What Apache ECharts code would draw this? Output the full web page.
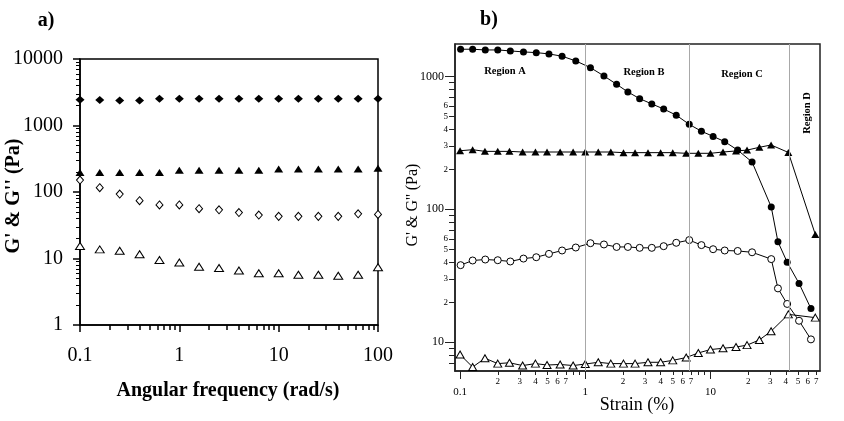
<!DOCTYPE html>
<html><head><meta charset="utf-8">
<script src="https://cdn.jsdelivr.net/npm/echarts@6/dist/echarts.min.js"></script>
<style>html,body{margin:0;padding:0;background:#fff}#c{width:844px;height:421px}</style>
</head><body><div id="c"></div>
<script>
// ---------- Panel a data ----------
const freqA = [0.1, 0.158, 0.251, 0.398, 0.631, 1, 1.58, 2.51, 3.98, 6.31, 10, 15.8, 25.1, 39.8, 63.1, 100];
const aFilledDiamond = [2430, 2420, 2380, 2380, 2520, 2520, 2530, 2530, 2530, 2530, 2530, 2530, 2530, 2530, 2530, 2530];
const aFilledTriangle = [196, 196, 196, 196, 196, 213, 213, 213, 213, 213, 222, 222, 222, 222, 222, 228];
const aOpenDiamond = [151, 116, 93, 74, 64, 64, 56, 54, 49, 45, 43, 43, 43, 43, 47, 46];
const aOpenTriangle = [15.4, 13.7, 13.1, 11.6, 9.5, 8.7, 7.5, 7.2, 6.6, 6.0, 6.0, 5.7, 5.7, 5.5, 5.7, 7.4];

// ---------- Panel b data ----------
const strainCircle = [0.101, 0.126, 0.159, 0.2, 0.252, 0.321, 0.406, 0.513, 0.653, 0.84, 1.10, 1.41, 1.78, 2.19, 2.72, 3.40, 4.23, 5.33, 6.77, 8.47, 10.5, 13.0, 16.5, 21.5, 30.6, 34.6, 41, 51, 63.5];
const bGprime = [1603, 1603, 1583, 1583, 1557, 1530, 1511, 1478, 1420, 1309, 1165, 1009, 873, 764, 681, 621, 569, 511, 436, 387, 354, 323, 279, 227, 104, 57, 40, 27.7, 17.9];
const bOpenCircle = [38.0, 41.2, 41.9, 41.4, 40.5, 42.6, 43.6, 46.2, 49.0, 51.6, 55.6, 54.4, 52.1, 52.1, 51.3, 51.3, 52.8, 56.0, 58.7, 53.8, 50.1, 49.0, 48.6, 47.5, 42.2, 25.4, 19.4, 14.5, 10.5];
const strainTriangle = [0.1, 0.126, 0.158, 0.2, 0.248, 0.316, 0.4, 0.495, 0.63, 0.8, 1.0, 1.27, 1.6, 2.02, 2.5, 3.17, 4.0, 5.0, 6.4, 8.0, 10, 12.6, 16, 19.6, 24.6, 30.5, 41.9, 68.8];
const bGdouble = [276, 281, 273, 273, 273, 270, 270, 270, 270, 270, 270, 270, 270, 267, 267, 267, 267, 267, 264, 264, 264, 270, 275, 279, 293, 305, 268, 64.7];
const bOpenTriangle = [8.07, 6.5, 7.57, 6.9, 7.0, 6.67, 6.9, 6.73, 6.8, 6.67, 6.85, 7.06, 6.9, 6.9, 6.9, 7.06, 7.06, 7.3, 7.66, 8.3, 8.8, 9.0, 9.2, 9.5, 10.4, 12.1, 16.2, 15.3];
const regionBounds = [1, 6.77, 42.8];
const regionNames = ['Region A', 'Region B', 'Region C', 'Region D'];

// ---------- Tick values / labels ----------
const aXMajor = [0.1, 1, 10, 100];
const aXMinor = [0.2,0.3,0.4,0.5,0.6,0.7,0.8,0.9, 2,3,4,5,6,7,8,9, 20,30,40,50,60,70,80,90];
const aYMajor = [1, 10, 100, 1000, 10000];
const aYMinor = [2,3,4,5,6,7,8,9, 20,30,40,50,60,70,80,90, 200,300,400,500,600,700,800,900, 2000,3000,4000,5000,6000,7000,8000,9000];
const bXMajor = [0.1, 1, 10];
const bXMajorText = ['0.1', '1', '10'];
const bXMinor = [0.2,0.3,0.4,0.5,0.6,0.7,0.8,0.9, 2,3,4,5,6,7,8,9, 20,30,40,50,60,70];
const bXDigitVals = [0.2,0.3,0.4,0.5,0.6,0.7, 2,3,4,5,6,7, 20,30,40,50,60,70];
const bXDigitText = ['2','3','4','5','6','7','2','3','4','5','6','7','2','3','4','5','6','7'];
const bYMajor = [10, 100, 1000];
const bYMajorText = ['10', '100', '1000'];
const bYMinor = [7,8,9, 20,30,40,50,60,70,80,90, 200,300,400,500,600,700,800,900];
const bYDigitVals = [20,30,40,50,60, 200,300,400,500,600];
const bYDigitText = ['2','3','4','5','6','2','3','4','5','6'];

function lookup(vals, texts) {
  return function (v) {
    let best = 0, bd = Infinity;
    for (let i = 0; i < vals.length; i++) {
      const d = Math.abs(Math.log10(v) - Math.log10(vals[i]));
      if (d < bd) { bd = d; best = i; }
    }
    return bd < 0.01 ? texts[best] : '';
  };
}

const SERIF = 'Liberation Serif';
const black = '#000';

function logAxis(o) {
  return Object.assign({
    type: 'log', logBase: 10, offset: 0, splitLine: { show: false }, minorTick: { show: false },
    axisLine: { show: false }, axisTick: { show: false }, axisLabel: { show: false }
  }, o);
}

const chart = echarts.init(document.getElementById('c'), null, { renderer: 'canvas' });
const option = {
  animation: false,
  backgroundColor: '#fff',
  grid: [
    { left: 80, top: 59, width: 298, height: 266, show: true, borderColor: black, borderWidth: 1.5, backgroundColor: 'transparent' },
    { left: 455, top: 44, width: 365, height: 327, show: true, borderColor: '#222', borderWidth: 1.5, backgroundColor: 'transparent' }
  ],
  xAxis: [
    logAxis({ gridIndex: 0, position: 'bottom', min: 0.1, max: 100,
      axisLine: { show: true, onZero: false, lineStyle: { color: black, width: 1.5 } },
      axisTick: { show: true, length: 7, customValues: aXMajor, lineStyle: { color: black, width: 1.5 } },
      axisLabel: { show: true, customValues: aXMajor, margin: 21, fontFamily: SERIF, fontSize: 20, color: black,
        formatter: v => String(v) } }),
    logAxis({ gridIndex: 0, position: 'bottom', min: 0.1, max: 100,
      axisTick: { show: true, length: 5, customValues: aXMinor, lineStyle: { color: black, width: 1.5 } } }),
    logAxis({ gridIndex: 1, position: 'bottom', min: 0.0911, max: 75,
      axisLine: { show: true, onZero: false, lineStyle: { color: '#222', width: 1.5 } },
      axisTick: { show: true, length: 8, customValues: bXMajor, lineStyle: { color: '#222', width: 1 } },
      axisLabel: { show: true, customValues: bXMajor, margin: 16, fontFamily: SERIF, fontSize: 11, color: black,
        formatter: lookup(bXMajor, bXMajorText) } }),
    logAxis({ gridIndex: 1, position: 'bottom', min: 0.0911, max: 75,
      axisTick: { show: true, length: 4, customValues: bXMinor, lineStyle: { color: '#222', width: 1 } },
      axisLabel: { show: true, customValues: bXDigitVals, margin: 6, fontFamily: SERIF, fontSize: 9, color: black,
        formatter: lookup(bXDigitVals, bXDigitText) } })
  ],
  yAxis: [
    logAxis({ gridIndex: 0, position: 'left', min: 1, max: 10000,
      axisLine: { show: true, onZero: false, lineStyle: { color: black, width: 1.5 } },
      axisTick: { show: true, length: 7, customValues: aYMajor, lineStyle: { color: black, width: 1.5 } },
      axisLabel: { show: true, customValues: aYMajor, margin: 17, fontFamily: SERIF, fontSize: 20, color: black,
        formatter: v => String(Math.round(v)) } }),
    logAxis({ gridIndex: 0, position: 'left', min: 1, max: 10000,
      axisTick: { show: true, length: 4, customValues: aYMinor, lineStyle: { color: black, width: 1 } } }),
    logAxis({ gridIndex: 1, position: 'left', min: 6.07, max: 1755,
      axisLine: { show: true, onZero: false, lineStyle: { color: '#222', width: 1.5 } },
      axisTick: { show: true, length: 10, customValues: bYMajor, lineStyle: { color: '#222', width: 1 } },
      axisLabel: { show: true, customValues: bYMajor, margin: 11, fontFamily: SERIF, fontSize: 12, color: black,
        formatter: lookup(bYMajor, bYMajorText) } }),
    logAxis({ gridIndex: 1, position: 'left', min: 6.07, max: 1755,
      axisTick: { show: true, length: 6, customValues: bYMinor, lineStyle: { color: '#222', width: 1 } },
      axisLabel: { show: true, customValues: bYDigitVals, margin: 7, fontFamily: SERIF, fontSize: 9, color: black,
        formatter: lookup(bYDigitVals, bYDigitText) } })
  ],
  series: [
    { type: 'scatter', xAxisIndex: 0, yAxisIndex: 0, symbol: 'diamond', symbolSize: [9, 8],
      itemStyle: { color: black, opacity: 1 }, data: freqA.map((x, i) => [x, aFilledDiamond[i]]) },
    { type: 'scatter', xAxisIndex: 0, yAxisIndex: 0, symbol: 'triangle', symbolSize: [9, 7],
      itemStyle: { color: black, opacity: 1 }, data: freqA.map((x, i) => [x, aFilledTriangle[i]]) },
    { type: 'scatter', xAxisIndex: 0, yAxisIndex: 0, symbol: 'diamond', symbolSize: [7, 8],
      itemStyle: { color: '#fff', borderColor: black, borderWidth: 1, opacity: 1 }, data: freqA.map((x, i) => [x, aOpenDiamond[i]]) },
    { type: 'scatter', xAxisIndex: 0, yAxisIndex: 0, symbol: 'triangle', symbolSize: [9, 7],
      itemStyle: { color: '#fff', borderColor: black, borderWidth: 1, opacity: 1 }, data: freqA.map((x, i) => [x, aOpenTriangle[i]]) },

    { type: 'line', xAxisIndex: 2, yAxisIndex: 2, symbol: 'circle', symbolSize: 7, showSymbol: true,
      lineStyle: { color: black, width: 1 }, itemStyle: { color: black, borderColor: black, borderWidth: 0 },
      data: strainCircle.map((x, i) => [x, bGprime[i]]),
      markLine: { silent: true, symbol: 'none', label: { show: false },
        lineStyle: { color: '#a8a8a8', type: 'solid', width: 1 },
        data: regionBounds.map(v => ({ xAxis: v })) } },
    { type: 'line', xAxisIndex: 2, yAxisIndex: 2, symbol: 'triangle', symbolSize: [8, 7], showSymbol: true,
      lineStyle: { color: black, width: 1 }, itemStyle: { color: black, borderWidth: 0 },
      data: strainTriangle.map((x, i) => [x, bGdouble[i]]) },
    { type: 'line', xAxisIndex: 2, yAxisIndex: 2, symbol: 'circle', symbolSize: 7, showSymbol: true,
      lineStyle: { color: black, width: 1 }, itemStyle: { color: '#fff', borderColor: black, borderWidth: 1 },
      data: strainCircle.map((x, i) => [x, bOpenCircle[i]]) },
    { type: 'line', xAxisIndex: 2, yAxisIndex: 2, symbol: 'triangle', symbolSize: [8, 7], showSymbol: true,
      lineStyle: { color: black, width: 1 }, itemStyle: { color: '#fff', borderColor: black, borderWidth: 1 },
      data: strainTriangle.map((x, i) => [x, bOpenTriangle[i]]) }
  ],
  graphic: [
    { type: 'text', x: 46, y: 21, style: { text: 'a)', font: 'bold 20px "Liberation Serif"', fill: black, align: 'center', verticalAlign: 'middle' } },
    { type: 'text', x: 489, y: 20, style: { text: 'b)', font: 'bold 20px "Liberation Serif"', fill: black, align: 'center', verticalAlign: 'middle' } },
    { type: 'text', x: 14, y: 196, rotation: Math.PI / 2, style: { text: "G' & G'' (Pa)", font: 'bold 20px "Liberation Serif"', fill: black, align: 'center', verticalAlign: 'middle' } },
    { type: 'text', x: 228, y: 391, style: { text: 'Angular frequency (rad/s)', font: 'bold 20px "Liberation Serif"', fill: black, align: 'center', verticalAlign: 'middle' } },
    { type: 'text', x: 413, y: 205, rotation: Math.PI / 2, style: { text: "G' & G'' (Pa)", font: '16px "Liberation Serif"', fill: black, align: 'center', verticalAlign: 'middle' } },
    { type: 'text', x: 637, y: 405, style: { text: 'Strain (%)', font: '18px "Liberation Serif"', fill: black, align: 'center', verticalAlign: 'middle' } },
    { type: 'text', x: 505, y: 71, style: { text: regionNames[0], font: 'bold 10.5px "Liberation Serif"', fill: black, align: 'center', verticalAlign: 'middle' } },
    { type: 'text', x: 644, y: 72, style: { text: regionNames[1], font: 'bold 10.5px "Liberation Serif"', fill: black, align: 'center', verticalAlign: 'middle' } },
    { type: 'text', x: 742, y: 74, style: { text: regionNames[2], font: 'bold 10.5px "Liberation Serif"', fill: black, align: 'center', verticalAlign: 'middle' } },
    { type: 'text', x: 807, y: 113, rotation: Math.PI / 2, style: { text: regionNames[3], font: 'bold 10.5px "Liberation Serif"', fill: black, align: 'center', verticalAlign: 'middle' } }
  ]
};
chart.setOption(option);
</script></body></html>
